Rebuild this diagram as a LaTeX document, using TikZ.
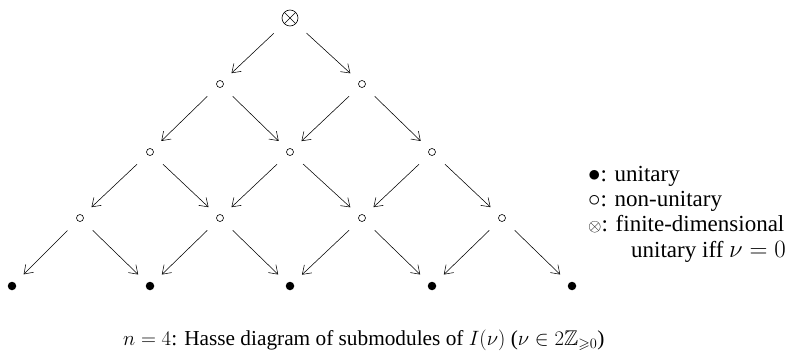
\documentclass[tikz,border=0pt]{standalone}
\usepackage{amssymb}
\usepackage{fontspec}
\setmainfont{Liberation Serif}
\usetikzlibrary{arrows.meta}
\begin{document}
\begin{tikzpicture}[x=1pt,y=-1pt,
  every node/.style={inner sep=0pt},
  open/.style={circle,draw,minimum size=7pt,line width=0.6pt},
  full/.style={circle,fill,minimum size=8.5pt},
  fin/.style={circle,draw,minimum size=16pt,line width=0.6pt,path picture={
     \draw[line width=0.6pt] (path picture bounding box.north west)--(path picture bounding box.south east)
       (path picture bounding box.north east)--(path picture bounding box.south west);}},
  arr/.style={-{Straight Barb[length=8pt,width=11pt]},line width=0.55pt,shorten <=14pt,shorten >=12pt},
  txt/.style={anchor=base west,font=\fontsize{23}{26}\selectfont},
  captxt/.style={anchor=base west,font=\fontsize{21.3}{25}\selectfont}]
\useasboundingbox (0,0) rectangle (796,353);
\node[fin] (a) at (290,18) {};
\node[open] (b1) at (220,84) {};
\node[open] (b2) at (362,84) {};
\node[open] (c1) at (150,152) {};
\node[open] (c2) at (290,152) {};
\node[open] (c3) at (432,152) {};
\node[open] (d1) at (80,218) {};
\node[open] (d2) at (220,218) {};
\node[open] (d3) at (362,218) {};
\node[open] (d4) at (502,218) {};
\node[full] (e1) at (12,286) {};
\node[full] (e2) at (150,286) {};
\node[full] (e3) at (290,286) {};
\node[full] (e4) at (432,286) {};
\node[full] (e5) at (572,286) {};
\foreach \s/\l/\r in {a/b1/b2,b1/c1/c2,b2/c2/c3,c1/d1/d2,c2/d2/d3,c3/d3/d4,d1/e1/e2,d2/e2/e3,d3/e3/e4,d4/e4/e5}{
  \draw[arr] (\s) -- (\l);
  \draw[arr] (\s) -- (\r);
}
\node[txt] (l1) at (588,181) {$\bullet$: unitary};
\node[txt] (l2) at (588,206) {$\circ$: non-unitary};
\node[txt] (l3) at (588,231) {$\scriptstyle\otimes$: finite-dimensional};
\node[txt] (l4) at (631,257) {unitary iff $\nu=0$};
\node[captxt] (cap) at (123,345) {$n=4$: Hasse diagram of submodules of $I(\nu)$ ($\nu\in 2\mathbb{Z}_{\geqslant 0}$)};
\end{tikzpicture}
\end{document}
